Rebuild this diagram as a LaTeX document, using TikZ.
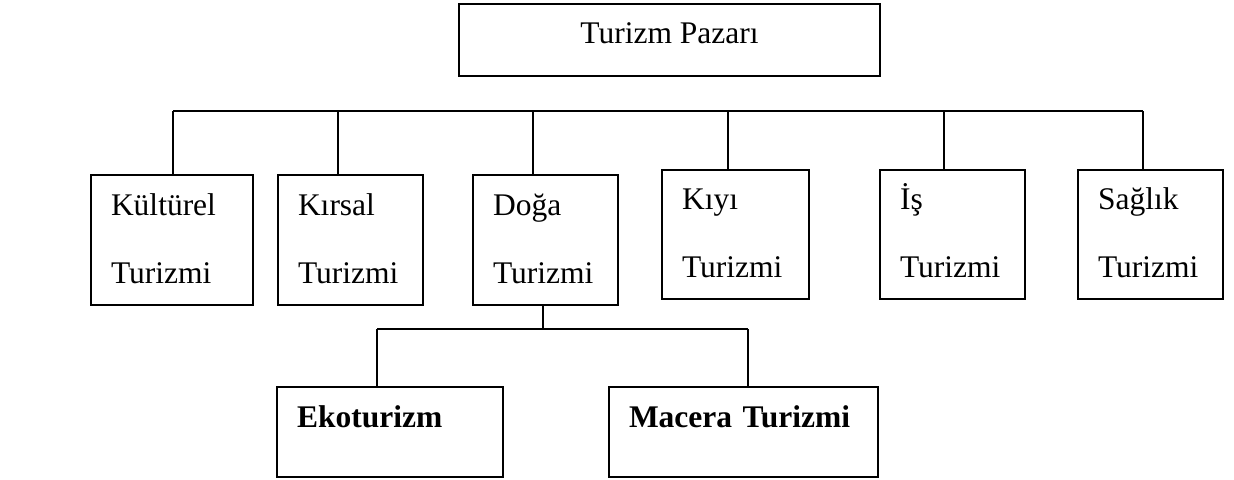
\documentclass[tikz,border=0pt]{standalone}
\usepackage{fontspec}
\setmainfont{Liberation Serif}
\begin{document}
\begin{tikzpicture}[x=0.5pt, y=-0.5pt,
				   every node/.style={draw=black, line width=1.4pt, inner ysep=0pt, font=\fontsize{15.75}{34}\selectfont},
				   tur/.style={inner xsep=10pt, align=left, text width=52.5pt, minimum height=65pt,
				               execute at begin node={\rule{0pt}{14pt}}, execute at end node={\rule[-5pt]{0pt}{5pt}}},
				   alt/.style={inner xsep=10pt, align=left, minimum height=45pt, text height=10.75pt, text depth=15.75pt, font=\fontsize{15.75}{34}\selectfont\bfseries},
				   hat/.style={line width=1pt}]
\useasboundingbox (0,0) rectangle (1234,479);

\node[minimum width=210.5pt, minimum height=36pt, text height=10.75pt, text depth=7.75pt] (pazar) at (669.5,40) {Turizm Pazarı};

\node[tur, text width=61pt] (kultur) at (172,240) {Kültürel\\Turizmi};
\node[tur] (kirsal) at (350.5,240) {Kırsal\\Turizmi};
\node[tur] (doga) at (545.5,240) {Doğa\\Turizmi};
\node[tur, text width=53.5pt, minimum height=64.5pt] (kiyi) at (735.5,234.5) {Kıyı\\Turizmi};
\node[tur, minimum height=64.5pt] (is) at (952.5,234.5) {İş\\Turizmi};
\node[tur, minimum height=64.5pt] (saglik) at (1150.5,234.5) {Sağlık\\Turizmi};

\node[alt, text width=93pt] (eko) at (390,432) {Ekoturizm};
\node[alt, text width=114.5pt] (macera) at (743.5,432) {Macera Turizmi};

% ana hat
\coordinate (b1) at (173,111);
\coordinate (b2) at (338,111);
\coordinate (b3) at (533,111);
\coordinate (b4) at (728,111);
\coordinate (b5) at (944,111);
\coordinate (b6) at (1143,111);
\draw[hat] (b1) -- (b6);
\draw[hat] (b1) -- (b1 |- kultur.north);
\draw[hat] (b2) -- (b2 |- kirsal.north);
\draw[hat] (b3) -- (b3 |- doga.north);
\draw[hat] (b4) -- (b4 |- kiyi.north);
\draw[hat] (b5) -- (b5 |- is.north);
\draw[hat] (b6) -- (b6 |- saglik.north);

% doga turizmi alt dallari
\coordinate (s0) at (543,329);
\coordinate (s1) at (377,329);
\coordinate (s2) at (748,329);
\draw[hat] (s0 |- doga.south) -- (s0);
\draw[hat] (s1) -- (s2);
\draw[hat] (s1) -- (s1 |- eko.north);
\draw[hat] (s2) -- (s2 |- macera.north);
\end{tikzpicture}
\end{document}
